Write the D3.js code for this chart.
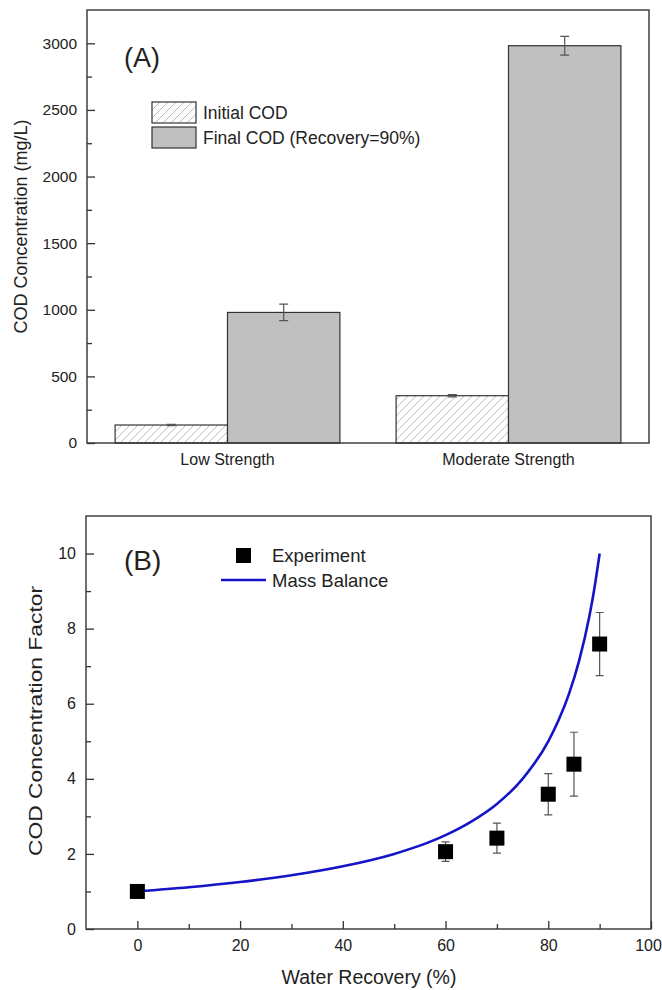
<!DOCTYPE html>
<meta charset="utf-8">
<style>
  body {
    margin: 0;
    background-color: white;
  }

  svg text {
    font-family: "Liberation Sans", Arial, sans-serif;
    fill: #222;
  }

  .frame {
    fill: none;
    stroke: #333;
    stroke-width: 1.4px;
  }

  .tick line {
    stroke: #333;
    stroke-width: 1.3px;
  }

  .bar-final {
    fill: #c0c0c0;
    stroke: #333;
    stroke-width: 1.2px;
  }

  .bar-initial {
    fill: url(#hatch);
    stroke: #333;
    stroke-width: 1.2px;
  }

  .err {
    stroke: #555;
    stroke-width: 1.2px;
    fill: none;
  }

  .mass {
    fill: none;
    stroke: #1414c8;
    stroke-width: 2.6px;
  }
</style>
<svg width="662" height="990"></svg>
<script src="https://d3js.org/d3.v7.min.js"></script>
<script>
  // ---- panel A data
  var groups = ["Low Strength", "Moderate Strength"];
  var seriesNames = ["Initial COD", "Final COD (Recovery=90%)"];
  var initialCOD = [135, 355];
  var initialErr = [5, 9];
  var finalCOD = [980, 2982];
  var finalErr = [62, 70];
  var ticksA = [0, 500, 1000, 1500, 2000, 2500, 3000];
  var minorA = [250, 750, 1250, 1750, 2250, 2750];

  // ---- panel B data
  var recovery = [0, 60, 70, 80, 85, 90];
  var factor = [1.0, 2.06, 2.42, 3.59, 4.39, 7.59];
  var factorErr = [0, 0.26, 0.4, 0.55, 0.85, 0.84];
  var curveRecovery = [0, 10, 20, 30, 40, 50, 55, 60, 65, 70, 75, 80, 82, 84, 86, 88, 89, 90];
  var curveFactor = [1.0, 1.11, 1.25, 1.43, 1.67, 2.0, 2.22, 2.5, 2.86, 3.33, 4.0, 5.0, 5.56, 6.25, 7.14, 8.33, 9.09, 10.0];
  var ticksBx = [0, 20, 40, 60, 80, 100];
  var minorBx = [10, 30, 50, 70, 90];
  var ticksBy = [0, 2, 4, 6, 8, 10];
  var minorBy = [1, 3, 5, 7, 9];
  var legendB = ["Experiment", "Mass Balance"];

  var svg = d3.select("svg");

  // hatch pattern for the initial COD bars
  svg.append("defs").append("pattern")
    .attr("id", "hatch")
    .attr("patternUnits", "userSpaceOnUse")
    .attr("width", 8)
    .attr("height", 8)
    .append("path")
    .attr("d", "M0,8 L8,0 M-2,2 L2,-2 M6,10 L10,6")
    .attr("stroke", "#b4b4b4")
    .attr("stroke-width", 0.9);

  // ================= panel A =================
  var a = { left: 87, right: 649, top: 10, bottom: 443 };
  var gA = svg.append("g");

  var x0 = d3.scaleBand()
    .domain(groups)
    .range([a.left, a.right])
    .paddingInner(0.2)
    .paddingOuter(0.1);

  var x1 = d3.scaleBand()
    .domain(["initial", "final"])
    .range([0, x0.bandwidth()]);

  var yA = d3.scaleLinear()
    .domain([0, 3250])
    .range([a.bottom, a.top]);

  var rowsA = groups.map(function(g, i) {
    return { group: g, initial: initialCOD[i], iErr: initialErr[i], final: finalCOD[i], fErr: finalErr[i] };
  });

  var bars = gA.selectAll(".grp")
    .data(rowsA)
    .enter().append("g")
    .attr("transform", function(d) { return "translate(" + x0(d.group) + ",0)"; });

  bars.append("rect")
    .attr("class", "bar-initial")
    .attr("x", x1("initial"))
    .attr("width", x1.bandwidth())
    .attr("y", function(d) { return yA(d.initial); })
    .attr("height", function(d) { return yA(0) - yA(d.initial); });

  bars.append("rect")
    .attr("class", "bar-final")
    .attr("x", x1("final"))
    .attr("width", x1.bandwidth())
    .attr("y", function(d) { return yA(d.final); })
    .attr("height", function(d) { return yA(0) - yA(d.final); });

  function errBar(sel, cx, v, e, cap) {
    sel.append("path")
      .attr("class", "err")
      .attr("d", "M" + (cx - cap) + "," + yA(v + e) + "H" + (cx + cap) +
        "M" + cx + "," + yA(v + e) + "V" + yA(v - e) +
        "M" + (cx - cap) + "," + yA(v - e) + "H" + (cx + cap));
  }

  bars.each(function(d) {
    var s = d3.select(this);
    errBar(s, x1("initial") + x1.bandwidth() / 2, d.initial, d.iErr, 4.5);
    errBar(s, x1("final") + x1.bandwidth() / 2, d.final, d.fErr, 4.5);
  });

  gA.append("g")
    .attr("transform", "translate(" + a.left + ",0)")
    .call(d3.axisLeft(yA).tickValues(ticksA).tickFormat(d3.format("d")).tickSize(-8).tickPadding(10))
    .call(function(g) { g.select(".domain").remove(); })
    .selectAll("text").style("font-size", "15.5px");

  gA.append("g")
    .attr("transform", "translate(" + a.left + ",0)")
    .call(d3.axisLeft(yA).tickValues(minorA).tickSize(-5).tickFormat(""))
    .call(function(g) { g.select(".domain").remove(); });

  gA.append("g")
    .attr("transform", "translate(0," + a.bottom + ")")
    .call(d3.axisBottom(x0).tickSize(0).tickPadding(11))
    .call(function(g) { g.select(".domain").remove(); })
    .selectAll("text").style("font-size", "16px");

  gA.append("rect")
    .attr("class", "frame")
    .attr("x", a.left)
    .attr("y", a.top)
    .attr("width", a.right - a.left)
    .attr("height", a.bottom - a.top);

  gA.append("text")
    .attr("transform", "translate(27," + (a.top + a.bottom) / 2 + ") rotate(-90)")
    .attr("text-anchor", "middle")
    .style("font-size", "18px")
    .text("COD Concentration (mg/L)");

  gA.append("text")
    .attr("x", 124)
    .attr("y", 67)
    .style("font-size", "27px")
    .text("(A)");

  // legend A
  var legA = gA.selectAll(".legA")
    .data(seriesNames)
    .enter().append("g")
    .attr("transform", function(d, i) { return "translate(152," + (102 + i * 25) + ")"; });

  legA.append("rect")
    .attr("class", function(d, i) { return i === 0 ? "bar-initial" : "bar-final"; })
    .attr("width", 44)
    .attr("height", 21);

  legA.append("text")
    .attr("x", 51)
    .attr("y", 17)
    .style("font-size", "17.5px")
    .text(function(d) { return d; });

  // ================= panel B =================
  var b = { left: 86, right: 651, top: 516, bottom: 929 };
  var gB = svg.append("g");

  var xB = d3.scaleLinear()
    .domain([-10, 100])
    .range([b.left, b.right]);

  var yB = d3.scaleLinear()
    .domain([0, 11])
    .range([b.bottom, b.top]);

  gB.append("g")
    .attr("transform", "translate(" + b.left + ",0)")
    .call(d3.axisLeft(yB).tickValues(ticksBy).tickSize(-8).tickPadding(10))
    .call(function(g) { g.select(".domain").remove(); })
    .selectAll("text").style("font-size", "16px");

  gB.append("g")
    .attr("transform", "translate(" + b.left + ",0)")
    .call(d3.axisLeft(yB).tickValues(minorBy).tickSize(-5).tickFormat(""))
    .call(function(g) { g.select(".domain").remove(); });

  gB.append("g")
    .attr("transform", "translate(0," + b.bottom + ")")
    .call(d3.axisBottom(xB).tickValues(ticksBx).tickSize(-8).tickPadding(11))
    .call(function(g) { g.select(".domain").remove(); })
    .selectAll("text")
    .style("font-size", "16px")
    // last label sits on the page edge, nudge it in
    .attr("dx", function(d) { return d === 100 ? -3 : 0; });

  gB.append("g")
    .attr("transform", "translate(0," + b.bottom + ")")
    .call(d3.axisBottom(xB).tickValues(minorBx).tickSize(-5).tickFormat(""))
    .call(function(g) { g.select(".domain").remove(); });

  var line = d3.line()
    .x(function(d) { return xB(d[0]); })
    .y(function(d) { return yB(d[1]); })
    .curve(d3.curveMonotoneX);

  gB.append("path")
    .datum(d3.zip(curveRecovery, curveFactor))
    .attr("class", "mass")
    .attr("d", line);

  var pts = d3.zip(recovery, factor, factorErr);

  gB.selectAll(".ebar")
    .data(pts.filter(function(d) { return d[2] > 0; }))
    .enter().append("path")
    .attr("class", "err")
    .attr("d", function(d) {
      var cx = xB(d[0]), t = yB(d[1] + d[2]), bt = yB(d[1] - d[2]);
      return "M" + (cx - 4) + "," + t + "H" + (cx + 4) + "M" + cx + "," + t + "V" + bt + "M" + (cx - 4) + "," + bt + "H" + (cx + 4);
    });

  gB.selectAll(".pt")
    .data(pts)
    .enter().append("rect")
    .attr("x", function(d) { return xB(d[0]) - 7.5; })
    .attr("y", function(d) { return yB(d[1]) - 7.5; })
    .attr("width", 15)
    .attr("height", 15)
    .attr("fill", "#000");

  gB.append("rect")
    .attr("class", "frame")
    .attr("x", b.left)
    .attr("y", b.top)
    .attr("width", b.right - b.left)
    .attr("height", b.bottom - b.top);

  gB.append("text")
    .attr("transform", "translate(42," + 721 + ") rotate(-90)")
    .attr("text-anchor", "middle")
    .attr("textLength", 270)
    .attr("lengthAdjust", "spacingAndGlyphs")
    .style("font-size", "19px")
    .text("COD Concentration Factor");

  gB.append("text")
    .attr("x", (b.left + b.right) / 2 + 0.5)
    .attr("y", 984)
    .attr("text-anchor", "middle")
    .style("font-size", "19.5px")
    .text("Water Recovery (%)");

  gB.append("text")
    .attr("x", 124)
    .attr("y", 570)
    .style("font-size", "28px")
    .text("(B)");

  // legend B
  gB.append("rect")
    .attr("x", 236)
    .attr("y", 548)
    .attr("width", 15)
    .attr("height", 15)
    .attr("fill", "#000");

  gB.append("line")
    .attr("class", "mass")
    .attr("x1", 221)
    .attr("x2", 266)
    .attr("y1", 580)
    .attr("y2", 580);

  gB.selectAll(".legB")
    .data(legendB)
    .enter().append("text")
    .attr("x", 272)
    .attr("y", function(d, i) { return 562 + i * 25; })
    .style("font-size", "18.5px")
    .text(function(d) { return d; });
</script>
